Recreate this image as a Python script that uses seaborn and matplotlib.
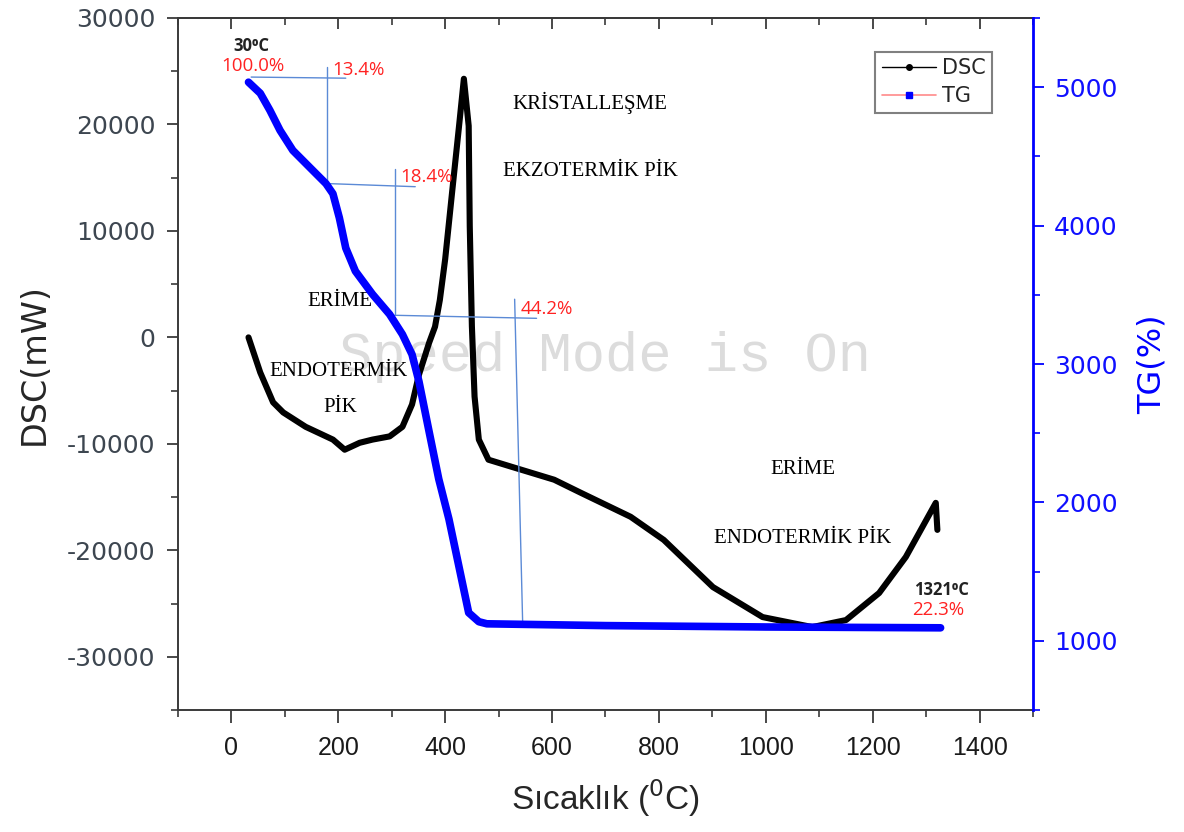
import matplotlib
matplotlib.use("Agg")
import matplotlib.pyplot as plt
from matplotlib.lines import Line2D
from matplotlib.ticker import MultipleLocator
import seaborn as sns
import pandas as pd

# DSC trace: temperature (degC) and heat flow (mW)
dsc_temp = [32, 54, 78, 97, 139, 190, 212, 240, 264, 296, 320, 338, 351, 370,
            381, 390, 400, 413, 426, 435, 444, 446, 450, 455, 463, 481, 524,
            604, 654, 747, 809, 901, 994, 1087, 1150, 1212, 1262, 1318, 1321]
dsc_mw = [0, -3300, -6100, -7050, -8400, -9600, -10550, -9900, -9600, -9300,
          -8400, -6300, -3500, -500, 1000, 3500, 7340, 13650, 19870, 24290,
          19870, 10450, 1040, -5560, -9600, -11490, -12150, -13370, -14600,
          -16850, -19020, -23450, -26270, -27210, -26550, -24010, -20620,
          -15540, -18080]

# TG trace: temperature (degC) and TG axis value
tg_temp = [32, 54, 72, 91, 115, 147, 177, 190, 202, 214, 232, 264, 296, 320,
           338, 351, 370, 388, 407, 444, 463, 478, 700, 1000, 1327]
tg_val = [5036, 4956, 4833, 4688, 4543, 4419, 4303, 4230, 4056, 3838, 3671,
          3504, 3359, 3214, 3069, 2873, 2510, 2169, 1880, 1203, 1138, 1123,
          1110, 1100, 1094]

# Mass-loss step labels
step_labels = ["100.0%", "13.4%", "18.4%", "44.2%", "22.3%"]
x_ticks = [0, 200, 400, 600, 800, 1000, 1200, 1400]
dsc_ticks = [-30000, -20000, -10000, 0, 10000, 20000, 30000]
tg_ticks = [1000, 2000, 3000, 4000, 5000]

dsc_df = pd.DataFrame({"T": dsc_temp, "DSC": dsc_mw})
tg_df = pd.DataFrame({"T": tg_temp, "TG": tg_val})

sns.set_style("ticks")
plt.rcParams["font.family"] = ["DejaVu Sans"]
plt.rcParams["axes.unicode_minus"] = False

fig = plt.figure(figsize=(11.84, 8.32), dpi=100)
ax = fig.add_axes([0.1503, 0.1466, 0.7222, 0.8318])
ax2 = ax.twinx()

# watermark text behind the curves
ax.text(0.5, 0.51, "Speed Mode is On", transform=ax.transAxes,
        ha="center", va="center", fontsize=40, color="#dcdcdc",
        family=["Liberation Mono", "DejaVu Sans Mono"], zorder=0)

sns.lineplot(data=dsc_df, x="T", y="DSC", ax=ax, color="black", lw=4.4,
             sort=False, estimator=None, legend=False, zorder=3,
             solid_joinstyle="round", solid_capstyle="round")
sns.lineplot(data=tg_df, x="T", y="TG", ax=ax2, color="#0000ff", lw=5.5,
             sort=False, estimator=None, legend=False, zorder=3,
             solid_joinstyle="round", solid_capstyle="round")

# axis ranges and ticks
ax.set_xlim(-100, 1500)
ax.set_ylim(-35000, 30000)
ax2.set_ylim(500, 5500)
ax.set_xticks(x_ticks)
ax.set_yticks(dsc_ticks)
ax2.set_yticks(tg_ticks)
ax.xaxis.set_minor_locator(MultipleLocator(100))
ax.yaxis.set_minor_locator(MultipleLocator(5000))
ax2.yaxis.set_minor_locator(MultipleLocator(500))

spine_c = "#3a3a3a"
for s in ["left", "bottom", "top"]:
    ax.spines[s].set_color(spine_c)
    ax.spines[s].set_linewidth(1.4)
    ax2.spines[s].set_visible(False)
ax.spines["right"].set_visible(False)
ax2.spines["right"].set_color("#0000ff")
ax2.spines["right"].set_linewidth(2)

ax.tick_params(axis="y", which="major", direction="out", length=8, width=1.3,
               color=spine_c, labelsize=18, labelcolor="#3d4650", pad=8)
ax.tick_params(axis="y", which="minor", direction="out", length=5, width=1.2,
               color=spine_c)
ax.tick_params(axis="x", which="major", direction="out", length=9, width=1.3,
               color=spine_c, labelsize=18, labelcolor="#1a1a1a", pad=10)
ax.tick_params(axis="x", which="minor", direction="out", length=5, width=1.2,
               color=spine_c)
for lab in ax.get_xticklabels():
    lab.set_family(["Liberation Sans"])

top = ax.secondary_xaxis("top")
top.set_xticks(x_ticks)
top.xaxis.set_minor_locator(MultipleLocator(100))
top.tick_params(which="major", direction="in", length=8, width=1.3,
                color=spine_c, labeltop=False)
top.tick_params(which="minor", direction="in", length=5, width=1.2,
                color=spine_c)
top.spines["top"].set_color(spine_c)
top.spines["top"].set_linewidth(1.4)

ax2.tick_params(axis="y", which="major", direction="out", length=8, width=1.3,
                color="#0000ff", labelsize=18, labelcolor="#1010ff", pad=7)
ax2.tick_params(axis="y", which="minor", direction="out", length=5, width=1.2,
                color="#0000ff")

ax.set_xlabel("Sıcaklık ($^{0}$C)", fontsize=24, labelpad=12,
              family=["Liberation Sans"])
ax.set_ylabel("DSC(mW)", fontsize=24, labelpad=12)
ax2.set_ylabel("TG(%)", fontsize=23, color="#0000ff", labelpad=14)

# step construction lines for the TG curve
guide_c = "#5b8ad6"
guides = [
    ([37, 214], [5073, 5065]),
    ([178, 178], [5145, 4303]),
    ([184, 344], [4303, 4281]),
    ([307, 307], [4412, 3359]),
    ([305, 571], [3352, 3330]),
    ([530, 545], [3468, 1130]),
]
for gx, gy in guides:
    ax2.plot(gx, gy, color=guide_c, lw=1.0, zorder=2)

red = "#ff2222"
pfont = ["Open Sans", "DejaVu Sans"]
ax.text(37, 27400, "30\u2070C", ha="center", va="center", fontsize=12,
        fontweight="bold", color="#222222", family=pfont)
ax.text(41, 25500, step_labels[0], ha="center", va="center", fontsize=13.5,
        color=red, family=pfont)
ax.text(188, 25150, step_labels[1], ha="left", va="center", fontsize=13.5,
        color=red, family=pfont)
ax.text(316, 15100, step_labels[2], ha="left", va="center", fontsize=13.5,
        color=red, family=pfont)
ax.text(541, 2650, step_labels[3], ha="left", va="center", fontsize=13.5,
        color=red, family=pfont)
ax.text(1329, -23700, "1321\u2070C", ha="center", va="center", fontsize=12,
        fontweight="bold", color="#222222", family=pfont)
ax.text(1323, -25600, step_labels[4], ha="center", va="center", fontsize=13.5,
        color=red, family=pfont)

serif = ["Liberation Serif", "DejaVu Serif"]
notes = [
    (671, 22030, "KRİSTALLEŞME"),
    (671, 15540, "EKZOTERMİK PİK"),
    (203, 3390, "ERİME"),
    (201, -3200, "ENDOTERMİK"),
    (203, -6590, "PİK"),
    (1069, -12430, "ERİME"),
    (1069, -18930, "ENDOTERMİK PİK"),
]
for nx, ny, nt in notes:
    ax.text(nx, ny, nt, ha="center", va="center", fontsize=15,
            color="black", family=serif)

handles = [
    Line2D([], [], color="black", lw=1, marker="o", ms=4,
           markerfacecolor="black"),
    Line2D([], [], color="#ff8a8a", lw=1.2, marker="s", ms=4,
           markerfacecolor="#0000ff", markeredgecolor="#0000ff"),
]
leg = ax2.legend(handles, ["DSC", "TG"], loc="upper right",
                 bbox_to_anchor=(0.952, 0.951), fontsize=15, frameon=True,
                 fancybox=False, edgecolor="#808080", framealpha=1,
                 handlelength=2.6, handletextpad=0.3, labelspacing=0.4,
                 borderpad=0.3, borderaxespad=0)
leg.get_frame().set_linewidth(1.5)

fig.savefig("out.png", dpi=100)
